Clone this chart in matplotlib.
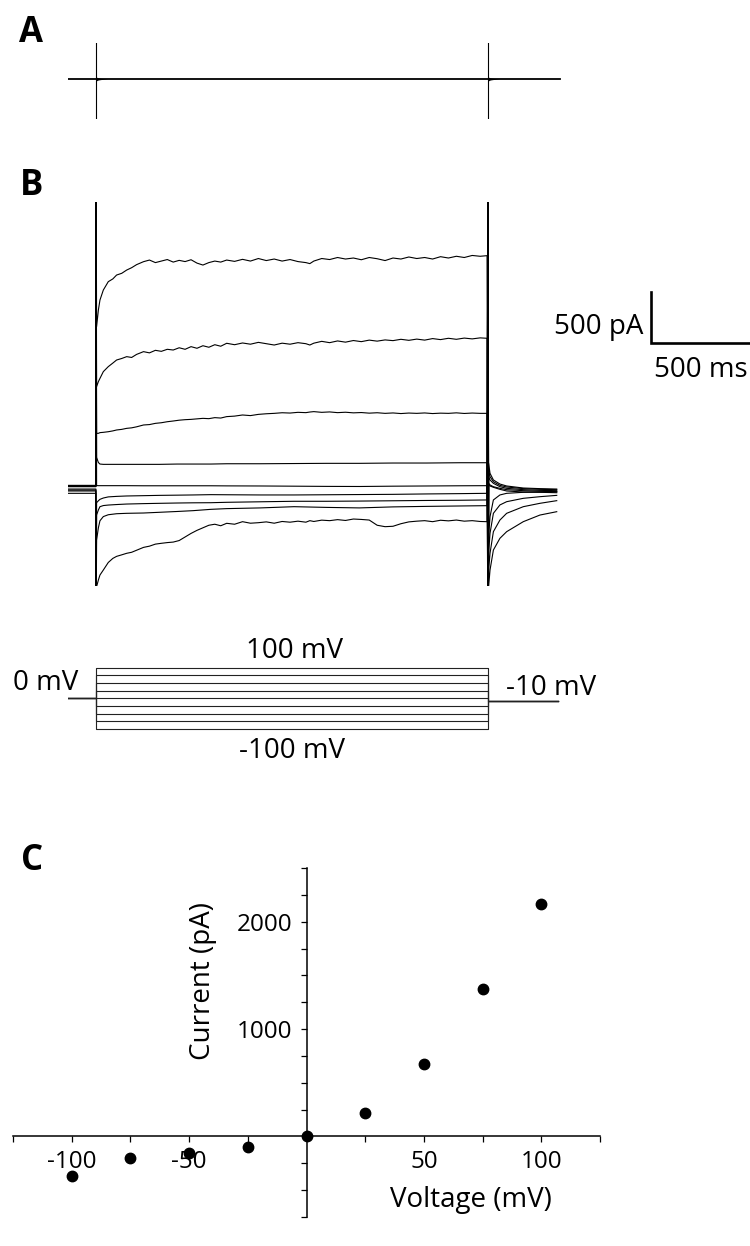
import numpy as np
import matplotlib
matplotlib.use("Agg")
import matplotlib.pyplot as plt
from matplotlib.ticker import FixedLocator

plt.rcParams['font.family'] = ['Open Sans', 'DejaVu Sans']

# ---------------- data ----------------
# panel B: voltage steps (mV), hold and tail potential
step_mv = [100, 75, 50, 25, 0, -25, -50, -75, -100]
hold_mv = 0
tail_mv = -10
pre_ms = -141
pulse_end_ms = 1980
tail_end_ms = 2327

# currents during the step (pA)
t_dense = [3, 12, 20, 37, 62, 85, 104, 130, 155, 180,
           205, 240, 270, 300, 330, 360, 390, 420, 450, 480,
           510, 540, 570, 600, 630, 660, 700, 740, 780, 820,
           860, 900, 940, 980, 1020, 1060, 1080, 1100, 1140, 1180,
           1220, 1260, 1300, 1340, 1380, 1420, 1460, 1500, 1540, 1580,
           1620, 1660, 1700, 1740, 1780, 1820, 1860, 1900, 1940, 1975]
i_p100 = [1572, 1735, 1833, 1931, 2013, 2040, 2078, 2095, 2127, 2150,
          2180, 2209, 2225, 2200, 2215, 2230, 2205, 2222, 2210, 2228,
          2195, 2176, 2200, 2215, 2205, 2225, 2212, 2232, 2215, 2240,
          2220, 2235, 2215, 2230, 2210, 2200, 2190, 2215, 2240, 2230,
          2250, 2235, 2245, 2228, 2250, 2238, 2220, 2245, 2235, 2255,
          2240, 2250, 2235, 2258, 2245, 2262, 2250, 2270, 2262, 2268]
i_p75 = [984, 1033, 1065, 1131, 1180, 1215, 1245, 1260, 1278, 1270,
         1300, 1327, 1315, 1340, 1330, 1350, 1343, 1365, 1350, 1376,
         1360, 1385, 1370, 1395, 1380, 1409, 1395, 1412, 1400, 1418,
         1405, 1392, 1410, 1400, 1415, 1405, 1392, 1410, 1428, 1415,
         1432, 1420, 1436, 1425, 1440, 1430, 1442, 1435, 1448, 1438,
         1450, 1440, 1455, 1445, 1458, 1448, 1460, 1452, 1462, 1458]
i_p50 = [526, 526, 533, 536, 542, 550, 559, 565, 575, 580,
         590, 608, 612, 624, 630, 640, 647, 655, 660, 663,
         668, 673, 670, 680, 676, 690, 695, 706, 700, 712,
         718, 722, 728, 725, 732, 729, 735, 739, 732, 736,
         729, 733, 727, 730, 724, 728, 722, 726, 720, 725,
         722, 726, 720, 724, 722, 727, 721, 725, 722, 722]
i_m100 = [-977, -912, -863, -814, -740, -700, -680, -665, -650, -640,
          -620, -592, -580, -560, -552, -545, -540, -525, -490, -455,
          -425, -400, -375, -365, -380, -356, -365, -340, -355, -350,
          -342, -355, -338, -345, -335, -345, -330, -338, -325, -330,
          -320, -328, -314, -318, -324, -375, -389, -385, -360, -342,
          -335, -330, -340, -326, -332, -324, -335, -330, -338, -340]

t_pulse = [3, 12, 20, 37, 62, 104, 155, 240, 320, 410, 490, 580, 660, 830, 1000, 1165, 1330, 1500, 1670, 1840, 1975]
i_p25 = [290, 240, 225, 222, 222, 222, 222, 222, 222, 225, 225, 225, 228, 228, 230, 232, 232, 235, 235, 238, 238]
i_p0 = [14, 13, 13, 13, 13, 13, 13, 12, 12, 12, 12, 12, 11, 10, 8, 6, 5, 8, 10, 12, 13]
i_m25 = [-154, -135, -121, -108, -97, -92, -88, -85, -82, -80, -78, -75, -76, -78, -78, -76, -74, -72, -68, -65, -62]
i_m50 = [-274, -225, -193, -182, -177, -172, -167, -163, -160, -157, -155, -154, -150, -145, -140, -140, -138, -135, -132, -130, -127]
i_m75 = [-520, -400, -331, -290, -272, -262, -258, -255, -248, -240, -232, -219, -212, -205, -193, -200, -205, -195, -190, -186, -183]

# tail currents at -10 mV (pA)
t_tail = [1983, 1990, 2007, 2040, 2074, 2158, 2242, 2327]
tail_p100 = [232, 134, 69, 29, 10, -10, -16, -20]
tail_p75 = [167, 101, 52, 16, 0, -16, -23, -26]
tail_p50 = [101, 69, 36, 3, -13, -26, -33, -36]
tail_p25 = [36, 20, 3, -13, -26, -36, -42, -46]
tail_p0 = [20, 10, -3, -23, -39, -49, -52, -56]
tail_m25 = [-487, -291, -127, -78, -62, -52, -49, -46]
tail_m50 = [-650, -454, -258, -176, -144, -111, -95, -82]
tail_m75 = [-814, -650, -438, -324, -258, -193, -160, -134]
tail_m100 = [-977, -814, -618, -503, -438, -340, -275, -242]

# holding current before the step (pA)
pre_i = [16, 13, 10, 6, 3, -20, -30, -39, -62]

# capacitive transients, clipped by the axes
spike_up = 3500
spike_down = -1500

# panel A: flat trace with transients
a_base = 20
t_blip = [0, 5, 12, 25, 40, 60]
blip_half = [22, 15, 10, 6, 3, 0]

# panel C: I-V relation
iv_mv = [-100, -75, -50, -25, 0, 25, 50, 75, 100]
iv_pa = [-371, -200, -152, -100, 0, 215, 679, 1374, 2168]

# ---------------- layout helpers ----------------
W, H = 750, 1246


def px_axes(fig, x0, y0, x1, y1):
    ax = fig.add_axes([x0 / W, 1 - y1 / H, (x1 - x0) / W, (y1 - y0) / H])
    ax.set_axis_off()
    return ax


def ftext(fig, x, y, s, **kw):
    return fig.text(x / W, 1 - y / H, s, **kw)


# time axis: 96 px -> 0 ms, 0.198 px per ms; current: 487 px -> 0 pA, 0.102 px per pA
def t_lim(x0, x1):
    return ((x0 - 96) / 0.198, (x1 - 96) / 0.198)


def i_lim(y0, y1, zero=487, scale=0.102):
    return ((zero - y1) / scale, (zero - y0) / scale)


fig = plt.figure(figsize=(7.5, 12.46), dpi=100)

# ---------------- panel A ----------------
axa = px_axes(fig, 68, 43, 750, 119)
axa.set_xlim(*t_lim(68, 750))
axa.set_ylim(*i_lim(43, 119, zero=81))
axa.plot([pre_ms, 2343], [a_base, a_base], color='black', lw=1.3)
for tt in [0, pulse_end_ms]:
    axa.plot([tt, tt], [spike_down, spike_up], color='black', lw=0.8)
    tb = np.array(t_blip) + tt
    axa.fill_between(tb, a_base - np.array(blip_half), a_base + np.array(blip_half),
                     color='black', lw=0)
ftext(fig, 19, 42, 'A', fontsize=25, fontweight='bold', va='baseline')

# ---------------- panel B traces ----------------
axb = px_axes(fig, 68, 202, 750, 586)
axb.set_xlim(*t_lim(68, 750))
axb.set_ylim(*i_lim(202, 586))

pulse_sets = [
    (t_dense, i_p100, tail_p100),
    (t_dense, i_p75, tail_p75),
    (t_dense, i_p50, tail_p50),
    (t_pulse, i_p25, tail_p25),
    (t_pulse, i_p0, tail_p0),
    (t_pulse, i_m25, tail_m25),
    (t_pulse, i_m50, tail_m50),
    (t_pulse, i_m75, tail_m75),
    (t_dense, i_m100, tail_m100),
]
for v, pre, (tp, ip, tl) in zip(step_mv, pre_i, pulse_sets):
    on = spike_up if v >= 0 else spike_down
    off = spike_down if v >= 0 else spike_up
    t = [pre_ms, -0.5, 0] + list(tp) + [pulse_end_ms] + t_tail
    i = [pre, pre, on] + list(ip) + [off] + list(tl)
    axb.plot(t, i, color='black', lw=0.8)

# scale bar: 500 pA / 500 ms
sb_t = (651 - 96) / 0.198
sb_i = (487 - 343) / 0.102
axb.plot([sb_t, sb_t, sb_t + 500], [sb_i + 500, sb_i, sb_i], color='black', lw=1.9,
         clip_on=False, solid_joinstyle='miter')
ftext(fig, 643, 334, '500 pA', fontsize=20, ha='right', va='baseline')
ftext(fig, 701, 377, '500 ms', fontsize=20, ha='center', va='baseline')
ftext(fig, 20, 195, 'B', fontsize=25, fontweight='bold', va='baseline')

# ---------------- panel B protocol ----------------
axv = px_axes(fig, 68, 620, 750, 770)
axv.set_xlim(*t_lim(68, 750))
axv.set_ylim((698.3 - 770) / 0.308, (698.3 - 620) / 0.308)
for v in step_mv:
    axv.plot([pre_ms, 0, 0, pulse_end_ms, pulse_end_ms, tail_end_ms + 6],
             [hold_mv, hold_mv, v, v, tail_mv, tail_mv], color='#222222', lw=0.8)
ftext(fig, 46, 690, '0 mV', fontsize=20, ha='center', va='baseline')
ftext(fig, 294, 658, '100 mV', fontsize=20, ha='center', va='baseline')
ftext(fig, 292, 758, '-100 mV', fontsize=20, ha='center', va='baseline')
ftext(fig, 551, 695, '-10 mV', fontsize=20, ha='center', va='baseline')

# ---------------- panel C ----------------
axc = fig.add_axes([13 / W, 1 - 1217 / H, (600 - 13) / W, (1217 - 868) / H])
axc.set_xlim(-125, 125)
axc.set_ylim(-750, 2500)
for s in ['top', 'right']:
    axc.spines[s].set_visible(False)
axc.spines['left'].set_position(('data', 0))
axc.spines['bottom'].set_position(('data', 0))
for s in ['left', 'bottom']:
    axc.spines[s].set_linewidth(1.1)
axc.set_xticks([-100, -50, 50, 100])
axc.set_xticklabels(['-100', '-50', '50', '100'])
axc.xaxis.set_minor_locator(FixedLocator([-125, -75, -25, 25, 75, 125]))
axc.set_yticks([1000, 2000])
axc.set_yticklabels(['1000', '2000'])
axc.yaxis.set_minor_locator(FixedLocator([-750, -500, -250, 250, 500, 750, 1250, 1500,
                                          1750, 2250, 2500]))
axc.tick_params(which='both', direction='out', length=4, width=0.9, labelsize=17.5, pad=6)
axc.patch.set_visible(False)
axc.plot(iv_mv, iv_pa, 'o', color='black', markersize=7.5, clip_on=False, zorder=5)
ftext(fig, 471, 1207, 'Voltage (mV)', fontsize=20, ha='center', va='baseline')
ftext(fig, 203, 981, 'Current (pA)', fontsize=20, ha='center', va='center', rotation=90)
ftext(fig, 21, 870, 'C', fontsize=25, fontweight='bold', va='baseline')

fig.savefig('out.png', dpi=100)
